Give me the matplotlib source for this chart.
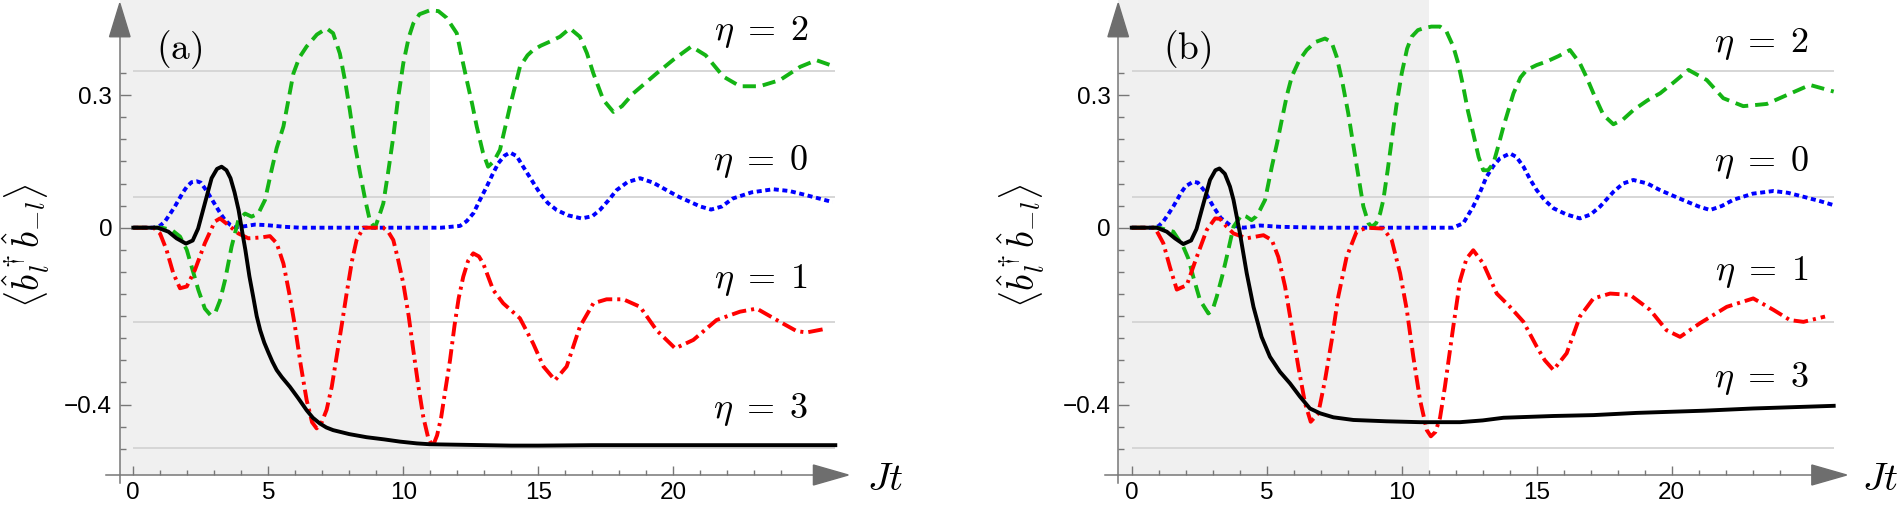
import numpy as np
import matplotlib
matplotlib.use("Agg")
import matplotlib.pyplot as plt
from matplotlib.patches import Polygon

plt.rcParams['mathtext.fontset'] = 'cm'
plt.rcParams['font.family'] = ['Liberation Sans', 'DejaVu Sans']
plt.rcParams['lines.scale_dashes'] = False

# ---------------- data ----------------
# panel (a)
a_t3 = [0, 0.9, 1.3, 1.6, 1.95, 2.2, 2.4, 2.65, 2.9, 3.1, 3.27, 3.45, 3.6, 3.75, 3.9,
        4.05, 4.15, 4.3, 4.44, 4.57, 4.7, 4.85, 5.0, 5.15, 5.31, 5.5, 5.8, 6.1, 6.42,
        6.65, 6.91, 7.15, 7.4, 8.0, 8.64, 9.3, 9.88, 10.5, 11.0, 12, 13, 14, 15, 17, 20, 23, 26]
a_y3 = [0, 0, -0.009, -0.024, -0.036, -0.029, -0.002, 0.055, 0.112, 0.133, 0.138, 0.13,
        0.112, 0.08, 0.04, -0.015, -0.05, -0.11, -0.156, -0.2, -0.232, -0.26, -0.282,
        -0.303, -0.322, -0.338, -0.36, -0.385, -0.413, -0.43, -0.443, -0.452, -0.458,
        -0.467, -0.474, -0.479, -0.484, -0.488, -0.490, -0.491, -0.492, -0.493, -0.493,
        -0.492, -0.492, -0.492, -0.492]

a_t0 = [0, 0.75, 1.0, 1.17, 1.35, 1.54, 1.7, 1.85, 2.0, 2.16, 2.35, 2.5, 2.72, 2.9, 3.09,
        3.25, 3.4, 3.6, 3.77, 4.1, 4.5, 4.9, 5.6, 6.2, 8, 10, 11.4, 12.1, 12.35, 12.6,
        12.84, 13.09, 13.3, 13.52, 13.75, 13.95, 14.2, 14.44, 14.75, 15.06, 15.35, 15.68,
        16.1, 16.6, 17.0, 17.28, 17.6, 17.9, 18.3, 18.77, 19.25, 19.75, 20.2, 20.6, 21.0,
        21.4, 21.8, 22.2, 22.9, 23.7, 24.3, 24.9, 25.4, 25.9]
a_y0 = [0, 0, 0.005, 0.014, 0.03, 0.048, 0.065, 0.081, 0.094, 0.103, 0.105, 0.102, 0.083,
        0.065, 0.046, 0.03, 0.017, 0.006, 0.001, 0.003, 0.007, 0.006, 0.002, 0.0, 0, 0, 0,
        0.004, 0.015, 0.033, 0.063, 0.093, 0.12, 0.146, 0.163, 0.17, 0.162, 0.138, 0.108,
        0.078, 0.056, 0.04, 0.028, 0.021, 0.026, 0.04, 0.062, 0.085, 0.103, 0.112, 0.102,
        0.085, 0.07, 0.059, 0.048, 0.041, 0.048, 0.066, 0.08, 0.087, 0.083, 0.074, 0.066, 0.058]

a_t2 = [0, 1.05, 1.42, 1.73, 1.98, 2.16, 2.41, 2.65, 2.86, 3.05, 3.21, 3.4, 3.64, 3.89,
        4.14, 4.38, 4.63, 4.88, 5.12, 5.31, 5.56, 5.93, 6.15, 6.42, 6.8, 7.16, 7.4, 7.65,
        7.85, 8.02, 8.2, 8.4, 8.6, 8.77, 8.95, 9.1, 9.26, 9.45, 9.63, 9.8, 10.0, 10.2,
        10.37, 10.6, 10.99, 11.3, 11.6, 11.98, 12.15, 12.35, 12.55, 12.72, 12.95, 13.14,
        13.35, 13.58, 13.95, 14.32, 14.6, 14.81, 15.1, 15.43, 15.8, 16.17, 16.54, 16.8,
        17.04, 17.41, 17.78, 18.1, 18.52, 19.38, 20.0, 20.67, 21.2, 21.85, 22.47, 23.2,
        23.95, 24.7, 25.3, 26.0]
a_y2 = [0, 0, -0.005, -0.02, -0.05, -0.088, -0.141, -0.183, -0.198, -0.19, -0.165, -0.118,
        -0.043, 0.017, 0.032, 0.025, 0.032, 0.063, 0.13, 0.18, 0.229, 0.349, 0.385, 0.41,
        0.437, 0.451, 0.44, 0.394, 0.33, 0.266, 0.19, 0.123, 0.06, 0.014, 0.0, 0.025,
        0.055, 0.13, 0.206, 0.29, 0.372, 0.43, 0.462, 0.483, 0.492, 0.49, 0.475, 0.44,
        0.39, 0.334, 0.28, 0.229, 0.17, 0.138, 0.15, 0.176, 0.274, 0.364, 0.39, 0.402,
        0.412, 0.421, 0.432, 0.451, 0.432, 0.395, 0.349, 0.289, 0.262, 0.275, 0.304,
        0.349, 0.38, 0.41, 0.39, 0.342, 0.32, 0.32, 0.334, 0.364, 0.379, 0.364]

a_t1 = [0, 0.75, 0.99, 1.23, 1.48, 1.73, 1.98, 2.28, 2.65, 3.02, 3.21, 3.52, 3.89, 4.26,
        4.75, 5.06, 5.31, 5.56, 5.8, 5.99, 6.2, 6.42, 6.62, 6.79, 6.98, 7.16, 7.35, 7.53,
        7.72, 7.9, 8.1, 8.27, 8.52, 9.26, 9.45, 9.63, 9.8, 10.0, 10.2, 10.37, 10.55,
        10.74, 10.92, 11.09, 11.25, 11.4, 11.55, 11.73, 11.9, 12.05, 12.22, 12.4, 12.59,
        12.8, 12.96, 13.33, 13.7, 14.32, 14.81, 15.19, 15.62, 16.05, 16.54, 17.04, 17.53,
        18.15, 18.77, 19.38, 20.07, 20.74, 21.6, 22.47, 23.09, 23.95, 24.57, 24.94, 25.7]
a_y1 = [0, 0, -0.013, -0.05, -0.103, -0.137, -0.133, -0.096, -0.035, 0.014, 0.021, 0.006,
        -0.013, -0.024, -0.022, -0.019, -0.035, -0.081, -0.156, -0.224, -0.31, -0.39,
        -0.44, -0.454, -0.44, -0.412, -0.36, -0.292, -0.22, -0.149, -0.075, -0.028, 0, 0,
        -0.01, -0.028, -0.07, -0.126, -0.2, -0.277, -0.355, -0.428, -0.475, -0.495, -0.47,
        -0.43, -0.37, -0.3, -0.22, -0.16, -0.111, -0.075, -0.058, -0.065, -0.081, -0.141,
        -0.171, -0.205, -0.262, -0.314, -0.345, -0.314, -0.224, -0.171, -0.162, -0.162,
        -0.179, -0.232, -0.273, -0.254, -0.209, -0.19, -0.183, -0.213, -0.234, -0.237, -0.228]

# panel (b)
b_t3 = [0, 0.93, 1.3, 1.6, 1.91, 2.2, 2.4, 2.65, 2.9, 3.1, 3.25, 3.45, 3.64, 3.77, 4.01,
        4.26, 4.51, 4.81, 5.12, 5.49, 5.86, 6.23, 6.6, 6.98, 7.47, 8.21, 9.44, 10.68,
        12.16, 13.0, 13.77, 15.62, 17.1, 18.7, 21.2, 23.02, 26.0]
b_y3 = [0, 0, -0.009, -0.024, -0.037, -0.029, -0.003, 0.053, 0.108, 0.13, 0.134, 0.122,
        0.093, 0.063, -0.013, -0.103, -0.179, -0.247, -0.292, -0.326, -0.352, -0.382,
        -0.409, -0.42, -0.429, -0.435, -0.438, -0.44, -0.44, -0.436, -0.43, -0.426,
        -0.424, -0.419, -0.414, -0.409, -0.403]

b_t0 = [0, 0.86, 1.0, 1.17, 1.35, 1.54, 1.7, 1.85, 2.0, 2.28, 2.45, 2.7, 3.02, 3.3, 3.64,
        4.14, 4.75, 5.5, 7, 9, 11.9, 12.28, 12.65, 12.9, 13.14, 13.4, 13.64, 14.01, 14.25,
        14.51, 14.75, 15.0, 15.3, 15.62, 16.1, 16.6, 17.0, 17.35, 17.84, 18.2, 18.58,
        19.1, 19.57, 20.1, 20.56, 21.0, 21.42, 21.85, 22.28, 23.0, 23.77, 24.3, 24.88,
        25.5, 26.0]
b_y0 = [0, 0, 0.004, 0.014, 0.03, 0.048, 0.065, 0.081, 0.094, 0.104, 0.102, 0.083, 0.048,
        0.022, 0.006, 0.0, 0.005, 0.002, 0, 0, 0, 0.01, 0.048, 0.08, 0.115, 0.14, 0.157,
        0.168, 0.16, 0.138, 0.11, 0.085, 0.062, 0.044, 0.03, 0.021, 0.03, 0.048, 0.081,
        0.1, 0.108, 0.1, 0.085, 0.071, 0.059, 0.048, 0.04, 0.049, 0.063, 0.077, 0.083,
        0.079, 0.07, 0.06, 0.051]

b_t2 = [0, 1.0, 1.54, 1.91, 2.1, 2.28, 2.53, 2.84, 3.0, 3.15, 3.35, 3.52, 3.77, 4.07,
        4.25, 4.44, 4.6, 4.75, 4.94, 5.19, 5.38, 5.56, 5.75, 5.93, 6.2, 6.48, 6.8, 7.16,
        7.4, 7.59, 7.8, 8.02, 8.2, 8.4, 8.58, 8.77, 8.89, 9.05, 9.2, 9.32, 9.48, 9.63,
        9.8, 10.0, 10.2, 10.37, 10.6, 10.8, 11.1, 11.42, 11.65, 11.91, 12.1, 12.28, 12.45,
        12.65, 12.85, 13.02, 13.2, 13.4, 13.6, 13.77, 14.14, 14.4, 14.63, 15.0, 15.37,
        15.8, 16.23, 16.6, 16.85, 17.1, 17.47, 17.84, 18.2, 18.58, 19.1, 19.57, 20.1,
        20.62, 21.3, 21.91, 22.65, 23.52, 24.26, 25.12, 26.0]
b_y2 = [0, 0, -0.009, -0.043, -0.07, -0.111, -0.164, -0.194, -0.185, -0.156, -0.11,
        -0.066, 0.002, 0.029, 0.025, 0.017, 0.025, 0.04, 0.063, 0.138, 0.19, 0.244, 0.3,
        0.342, 0.378, 0.402, 0.42, 0.428, 0.42, 0.387, 0.33, 0.259, 0.19, 0.115, 0.048,
        0.01, 0.002, 0.01, 0.032, 0.063, 0.13, 0.198, 0.275, 0.349, 0.405, 0.432, 0.447,
        0.451, 0.455, 0.455, 0.445, 0.41, 0.37, 0.319, 0.265, 0.213, 0.16, 0.13, 0.13,
        0.146, 0.19, 0.229, 0.304, 0.34, 0.357, 0.368, 0.376, 0.388, 0.402, 0.372, 0.34,
        0.304, 0.255, 0.234, 0.245, 0.266, 0.288, 0.304, 0.33, 0.357, 0.334, 0.293, 0.275,
        0.28, 0.3, 0.323, 0.308]

b_t1 = [0, 0.86, 1.17, 1.42, 1.67, 2.04, 2.41, 2.78, 3.09, 3.27, 3.52, 3.77, 4.26, 4.88,
        5.19, 5.43, 5.68, 5.93, 6.17, 6.42, 6.63, 6.91, 7.16, 7.41, 7.65, 7.96, 8.33, 8.7,
        9.32, 9.63, 9.94, 10.19, 10.43, 10.68, 10.93, 11.08, 11.25, 11.42, 11.6, 11.91,
        12.16, 12.4, 12.65, 13.02, 13.52, 14.01, 14.51, 15.0, 15.3, 15.62, 16.11, 16.6,
        17.1, 17.72, 18.46, 19.2, 19.81, 20.31, 21.05, 22.04, 23.02, 23.77, 24.38, 24.88, 25.68]
b_y1 = [0, 0, -0.035, -0.09, -0.14, -0.13, -0.066, -0.005, 0.021, 0.02, 0.002, -0.013,
        -0.024, -0.017, -0.028, -0.066, -0.133, -0.224, -0.314, -0.397, -0.439, -0.42,
        -0.345, -0.254, -0.156, -0.066, -0.009, 0, -0.002, -0.028, -0.103, -0.186, -0.292,
        -0.39, -0.458, -0.472, -0.462, -0.43, -0.36, -0.224, -0.12, -0.07, -0.051, -0.081,
        -0.149, -0.179, -0.213, -0.269, -0.3, -0.322, -0.284, -0.201, -0.16, -0.149,
        -0.152, -0.186, -0.232, -0.247, -0.216, -0.179, -0.16, -0.186, -0.209, -0.213, -0.201]

ref_levels = [0.355, 0.070, -0.214, -0.499]
yticks_major = [-0.4, 0, 0.3]
ytick_labels = ['\u22120.4', '0', '0.3']
xticks_major = [0, 5, 10, 15, 20]
shade_end = 11

panels = [
    dict(tag='(a)', x0=133.3, tag_pos=(1.69, 0.402), ylab_t=-3.95,
         curves=[(a_t0, a_y0, 'eta0'), (a_t2, a_y2, 'eta2'), (a_t1, a_y1, 'eta1'), (a_t3, a_y3, 'eta3')],
         labels=[('2', 23.24, 0.443), ('0', 23.24, 0.149),
                 ('1', 23.24, -0.118), ('3', 23.24, -0.412)],
         jt=27.84),
    dict(tag='(b)', x0=1131.7, tag_pos=(2.07, 0.402), ylab_t=-4.07,
         curves=[(b_t0, b_y0, 'eta0'), (b_t2, b_y2, 'eta2'), (b_t1, b_y1, 'eta1'), (b_t3, b_y3, 'eta3')],
         labels=[('2', 23.33, 0.415), ('0', 23.33, 0.1475),
                 ('1', 23.33, -0.0995), ('3', 23.33, -0.342)],
         jt=27.72),
]

styles = {
    'eta0': dict(color='#0000ff', ls=(0, (3.6, 2.6))),
    'eta2': dict(color='#14b414', ls=(0, (9.5, 5.0))),
    'eta1': dict(color='#ff0000', ls=(0, (10.5, 3.6, 2.2, 3.6))),
    'eta3': dict(color='black', ls='-'),
}

W, H = 1902, 508
PX_T, Y0_PX, PX_Y = 27.0, 227.7, 442.0
XLIM = (-1.3, 28.5)
YLIM = (-0.6, 0.515)
AX_Y = -0.5595      # position of the horizontal axis line
AX_X = -0.5         # position of the vertical axis line
axis_col = '#777777'

fig = plt.figure(figsize=(W / 100, H / 100), dpi=100)

for p in panels:
    left_px = p['x0'] + XLIM[0] * PX_T
    right_px = p['x0'] + XLIM[1] * PX_T
    top_px = Y0_PX - YLIM[1] * PX_Y
    bot_px = Y0_PX - YLIM[0] * PX_Y
    ax = fig.add_axes([left_px / W, 1 - bot_px / H,
                       (right_px - left_px) / W, (bot_px - top_px) / H])
    ax.set_xlim(*XLIM)
    ax.set_ylim(*YLIM)
    ax.patch.set_visible(False)

    # shaded time window
    ax.fill_between([AX_X, shade_end], AX_Y, YLIM[1], color='#f0f0f0', lw=0, zorder=0)
    # reference levels
    ax.hlines(ref_levels, 0, 26, colors='#d6d6d6', lw=1.4, zorder=1)

    for t, y, key in p['curves']:
        st = styles[key]
        ax.plot(t, y, color=st['color'], linestyle=st['ls'], lw=2.8,
                dash_capstyle='butt', zorder=3)

    # axes drawn as arrows
    for s in ['top', 'right']:
        ax.spines[s].set_visible(False)
    ax.spines['left'].set_position(('data', AX_X))
    ax.spines['left'].set_bounds(-0.578, 0.44)
    ax.spines['bottom'].set_position(('data', AX_Y))
    ax.spines['bottom'].set_bounds(-1.0, 25.3)
    for s in ['left', 'bottom']:
        ax.spines[s].set_color(axis_col)
        ax.spines[s].set_linewidth(1.1)
    ax.add_patch(Polygon([[AX_X - 0.38, 0.432], [AX_X + 0.38, 0.432], [AX_X, 0.508]],
                         closed=True, color='#6e6e6e', clip_on=False, zorder=4))
    ax.add_patch(Polygon([[25.19, AX_Y - 0.0226], [25.19, AX_Y + 0.0226], [26.48, AX_Y]],
                         closed=True, color='#6e6e6e', clip_on=False, zorder=4))

    ax.set_xticks(xticks_major)
    ax.set_xticks(list(range(0, 25)), minor=True)
    ax.set_yticks(yticks_major)
    ax.set_yticklabels(ytick_labels)
    ax.set_yticks([round(v, 2) for v in np.arange(-0.5, 0.351, 0.05)], minor=True)
    ax.tick_params(axis='both', which='both', direction='in', color=axis_col, width=1.0)
    ax.tick_params(axis='x', which='major', length=6.5, pad=5, labelsize=17.5)
    ax.tick_params(axis='x', which='minor', length=3.6)
    ax.tick_params(axis='y', which='major', length=8, pad=5.5, labelsize=17.5)
    ax.tick_params(axis='y', which='minor', length=4.6)

    for num, tx, ty in p['labels']:
        ax.text(tx, ty, r'$\eta\;=\;' + num + '$', fontsize=26, ha='center', va='center')
    ax.text(p['tag_pos'][0], p['tag_pos'][1], r'$\mathrm{' + p['tag'] + '}$',
            fontsize=27, ha='center', va='center')
    ax.text(p['jt'], -0.570, r'$Jt$', fontsize=28, ha='center', va='center', clip_on=False)
    ax.text(p['ylab_t'], -0.041, r'$\langle\hat{b}_l^\dagger\hat{b}_{-l}\rangle$',
            fontsize=27, rotation=90, ha='center', va='center')

fig.savefig('out.png', dpi=100)
